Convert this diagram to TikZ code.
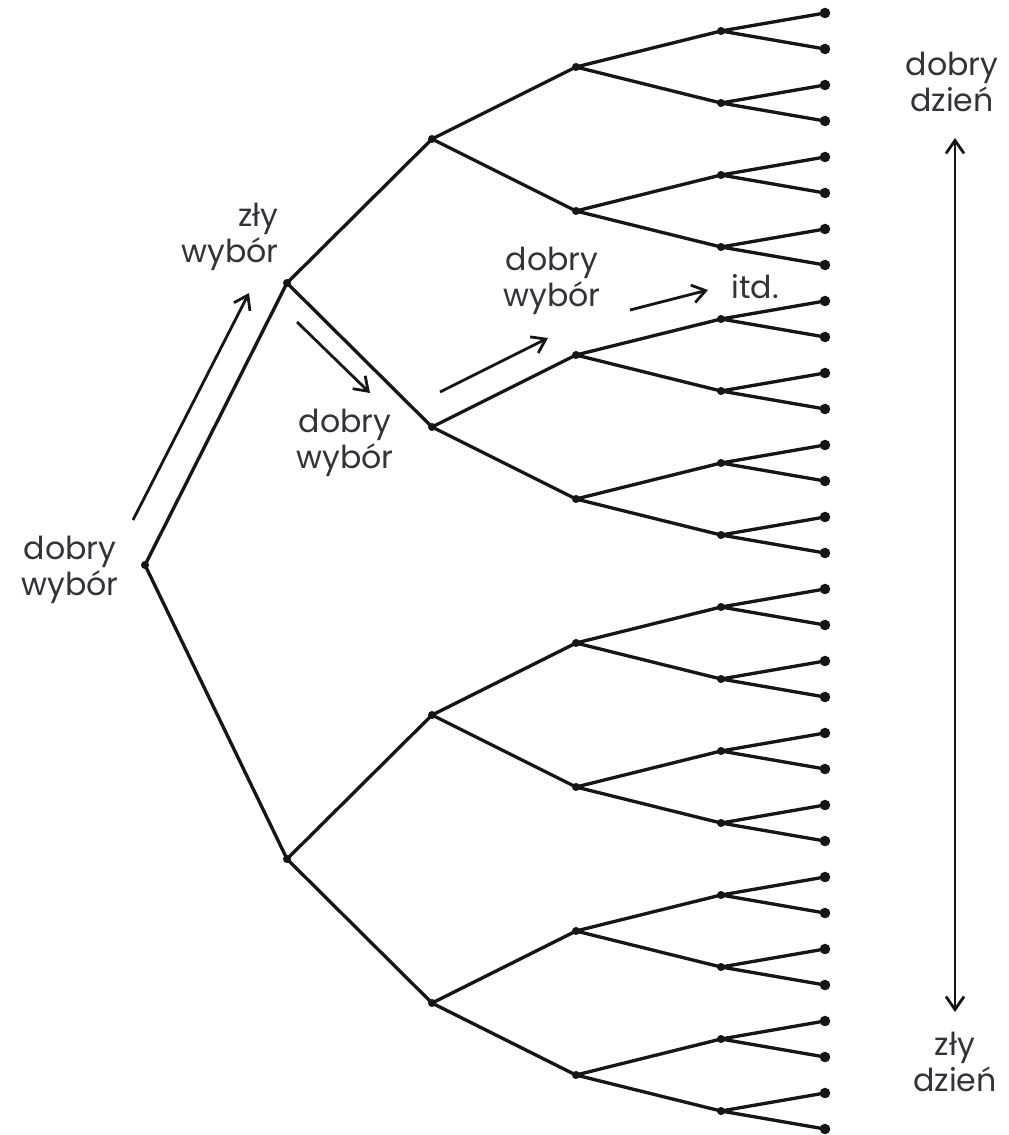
\documentclass[tikz,border=0pt]{standalone}
\usepackage{fontspec}
\setmainfont{Poppins}
\usetikzlibrary{arrows.meta, positioning}
\definecolor{inkcol}{RGB}{22, 22, 22}
\definecolor{txtcol}{RGB}{50, 50, 58}
\tikzset{
  knot/.style   = {circle, fill=inkcol, inner sep=0pt, minimum size=4.6pt},
  leaf/.style   = {knot, minimum size=6pt},
  branch/.style = {draw=inkcol, line width=1.9pt},
  lbl/.style    = {font=\fontsize{18}{20.5}\selectfont, text=txtcol,
                   align=center, inner sep=0pt},
  hint/.style   = {-{Straight Barb[length=2.6mm, width=3.6mm, line width=1.6pt]},
                   draw=inkcol, line width=1.6pt},
  % good day at the top, bad day at the bottom
  span/.style   = {{Straight Barb[length=2.6mm, width=3.6mm, line width=1.6pt]}-{Straight Barb[length=2.6mm, width=3.6mm, line width=1.6pt]},
                   draw=inkcol, line width=1.6pt},
}
\begin{document}
\begin{tikzpicture}[x=0.02cm, y=-0.02cm]

  \useasboundingbox (0,0) rectangle (1008,1135);

  %% ---------------- the tree ----------------
  \node[knot] (n0-0) at (145,565) {};
  \foreach \lev/\xx/\sty in {1/287/knot, 2/432/knot, 3/576/knot, 4/721/knot, 5/825/leaf} {
    \pgfmathtruncatemacro\last{2^\lev-1}
    \pgfmathtruncatemacro\wid{2^(5-\lev)}
    \pgfmathtruncatemacro\up{\lev-1}
    \foreach \i in {0,...,\last} {
      \pgfmathsetmacro\yy{13+36*(\i*\wid+(\wid-1)/2)}
      \pgfmathtruncatemacro\mom{floor(\i/2)}
      \node[\sty] (n\lev-\i) at (\xx,\yy) {};
      \draw[branch] (n\up-\mom.center) -- (n\lev-\i.center);
    }
  }

  %% ---------------- labels ----------------
  \node[lbl] (start) at (70,570) {dobry\\wybór};
  \node[lbl, align=right, anchor=east] (bad) at (279,237) {zły\\wybór};
  \node[lbl] (good1) at (345,443) {dobry\\wybór};
  \node[lbl] (good2) at (552,281) {dobry\\wybór};
  \node[lbl] (etc) at (755,287) {itd.};
  \node[lbl] (gday) at (952,82) {dobry\\dzień};
  \node[lbl] (bday) at (955,1062) {zły\\dzień};

  %% ---------------- the path taken ----------------
  \coordinate (a0) at (133,520);  \coordinate (a1) at (249,293);
  \coordinate (b0) at (297,322);  \coordinate (b1) at (370,393);
  \coordinate (c0) at (440,392);  \coordinate (c1) at (548,338);
  \coordinate (d0) at (630,310);  \coordinate (d1) at (708,290);
  \draw[hint] (a0) -- (a1);
  \draw[hint] (b0) -- (b1);
  \draw[hint] (c0) -- (c1);
  \draw[hint] (d0) -- (d1);

  %% ---------------- scale of the day ----------------
  \coordinate (top) at (955,138);
  \coordinate (bot) at (955,1012);
  \draw[span] (bot) -- (top);

\end{tikzpicture}
\end{document}
